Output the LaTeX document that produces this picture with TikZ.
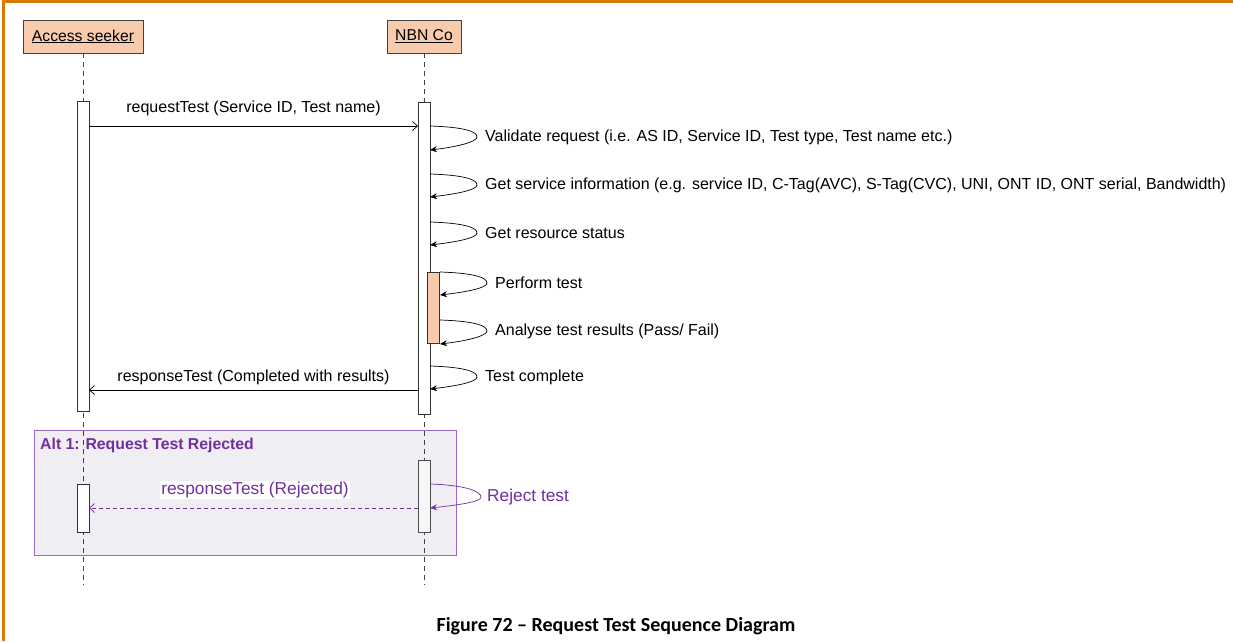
\documentclass[tikz,border=0pt]{standalone}
\usepackage{fontspec}
\setmainfont{Liberation Sans}
\newfontfamily\capfont{Carlito}
\usetikzlibrary{arrows.meta}
\definecolor{frameor}{HTML}{D87B00}
\definecolor{peach}{HTML}{F8CBAD}
\definecolor{purp}{HTML}{7030A0}
\definecolor{altfill}{HTML}{F0EDF3}
\definecolor{altline}{HTML}{9966CC}
\definecolor{lifegray}{HTML}{404040}
\tikzset{
  actor/.style={draw=lifegray, fill=peach, line width=0.8pt, minimum height=33pt, inner sep=0pt, font=\fontsize{15.7}{18}\selectfont},
  life/.style={draw=lifegray, dash pattern=on 5pt off 4pt, line width=0.8pt},
  actbox/.style={draw=black!80, fill=white, line width=0.8pt, minimum width=12pt, inner sep=0pt, anchor=north},
  msg/.style={draw=black, line width=0.7pt, -{Straight Barb[length=5pt,width=9pt]}},
  selfmsg/.style={draw=black, line width=0.7pt, -{Stealth[length=7pt,width=6pt]}},
  lbl/.style={font=\fontsize{16}{18}\selectfont, inner sep=1pt},
  plbl/.style={font=\fontsize{17.3}{20}\selectfont, text=purp, inner sep=1pt},
}
\begin{document}
\begin{tikzpicture}[x=1pt,y=-1pt]
\useasboundingbox (0,0) rectangle (1233,641);
\fill[white] (0,0) rectangle (1233,641);
% page frame (top and left)
\draw[frameor, line width=3pt] (3.5,641) -- (3.5,1.5) -- (1233,1.5);

% alt fragment background
\node[draw=altline, fill=altfill, line width=0.8pt, minimum width=422pt, minimum height=125pt, anchor=north west, inner sep=0pt] (alt) at (34,430) {};
\node[anchor=west, text=purp, font=\bfseries\fontsize{15.8}{18}\selectfont, inner sep=0pt] (alttitle) at (40,445) {Alt 1: Request Test Rejected};

% actors
\node[actor, minimum width=120pt] (as) at (83,36.5) {\underline{Access seeker}};
\node[actor, minimum width=74pt] (nbn) at (424,36.5) {\underline{NBN Co}};
\coordinate (asend) at (83,585);
\coordinate (nbnend) at (424,585);
\draw[life] (as.south) -- (asend);
\draw[life] (nbn.south) -- (nbnend);

% activations
\node[actbox, minimum height=310pt] (a1) at (83,101) {};
\node[actbox, minimum height=312pt] (n1) at (424,102) {};
\node[actbox, fill=peach, minimum height=71pt] (n2) at (433.5,272) {};
\node[actbox, minimum height=48pt] (a2) at (83,484) {};
\node[actbox, fill=white!93!gray, draw=black!70, minimum height=72pt] (n3) at (424,460) {};

% request
\coordinate (rq1) at (89,126);
\coordinate (rq2) at (418,126);
\draw[msg] (rq1) -- node[lbl, above=9pt] (rqlbl) {requestTest (Service ID, Test name)} (rq2);

% self loops on NBN
\foreach \ya/\yb/\xx/\txt/\nm in {
  126/150/430/{Validate request (i.e. AS ID, Service ID, Test type, Test name etc.)}/l1,
  174/197/430/{Get service information (e.g. service ID, C-Tag(AVC), S-Tag(CVC), UNI, ONT ID, ONT serial, Bandwidth)}/l2,
  222/245/430/{Get resource status}/l3,
  272/295/440/{Perform test}/l4,
  320/344/440/{Analyse test results (Pass/ Fail)}/l5,
  366/389/430/{Test complete}/l6}{
  \coordinate (\nm s) at (\xx,\ya);
  \coordinate (\nm e) at (\xx,\yb);
  \coordinate (\nm a) at (\xx+47,\ya+11);
  \draw[selfmsg] (\nm s) .. controls +(32,1) and +(0,-6) .. (\nm a) .. controls +(0,5) and +(26,-3) .. (\nm e);
  \node[lbl, anchor=west] (\nm t) at (\xx+54,\ya+11) {\txt};
}

% response
\coordinate (rs1) at (418,390);
\coordinate (rs2) at (89,390);
\draw[msg] (rs1) -- node[lbl, above=4pt] (rslbl) {responseTest (Completed with results)} (rs2);

% alt content
\coordinate (rjs) at (430,484);
\coordinate (rje) at (430,508);
\coordinate (rja) at (481,497);
\draw[selfmsg, draw=purp] (rjs) .. controls +(34,1) and +(0,-6) .. (rja) .. controls +(0,5) and +(28,-3) .. (rje);
\node[plbl, anchor=west] (rjt) at (486,497) {Reject test};
\coordinate (rr1) at (418,508);
\coordinate (rr2) at (89,508);
\draw[msg, draw=purp, dash pattern=on 4pt off 3pt] (rr1) -- (rr2);
\node[plbl, fill=white] (rrlbl) at (255,490) {responseTest (Rejected)};

% caption
\node[font=\capfont\bfseries\fontsize{20}{24}\selectfont] (cap) at (616,626) {Figure 72 – Request Test Sequence Diagram};
\end{tikzpicture}
\end{document}
